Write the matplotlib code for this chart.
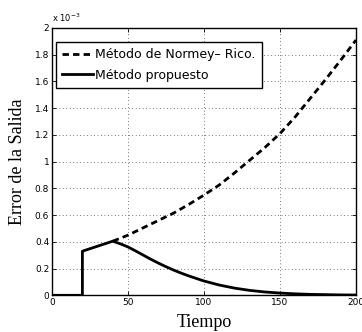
import numpy as np
import matplotlib
matplotlib.use('Agg')
import matplotlib.pyplot as plt
from matplotlib.ticker import FuncFormatter

# valores (error en unidades de 1e-3)
t_normey = [40, 50, 60, 70, 80, 90, 100, 110, 120, 130, 140, 150,
            160, 170, 180, 190, 200]
e_normey = [0.405, 0.45, 0.505, 0.56, 0.615, 0.68, 0.75, 0.825, 0.915, 1.01,
            1.105, 1.21, 1.335, 1.475, 1.615, 1.76, 1.91]

t_prop = [0, 20, 20, 40, 45, 50, 55, 60, 65, 70, 75, 80, 85, 90, 100, 110,
          120, 130, 140, 150, 160, 170, 180, 190, 200]
e_prop = [0, 0, 0.33, 0.405, 0.385, 0.362, 0.332, 0.301, 0.270, 0.241,
          0.214, 0.189, 0.166, 0.145, 0.107, 0.077, 0.054, 0.037, 0.025,
          0.017, 0.011, 0.007, 0.005, 0.003, 0.002]

xticks = [0, 50, 100, 150, 200]
yticks = [0, 0.2, 0.4, 0.6, 0.8, 1.0, 1.2, 1.4, 1.6, 1.8, 2.0]

fig = plt.figure(figsize=(3.62, 3.32), dpi=100)
ax = fig.add_axes([0.1436, 0.1105, 0.8398, 0.8052])

ax.plot(t_normey, e_normey, color='black', lw=2, linestyle=(0, (2.3, 1.5)),
        label='Método de Normey– Rico.')
ax.plot(t_prop, e_prop, color='black', lw=2, label='Método propuesto')

ax.set_xlim(0, 200)
ax.set_ylim(0, 2)
ax.set_xticks(xticks)
ax.set_yticks(yticks)
ax.yaxis.set_major_formatter(FuncFormatter(lambda v, p: f'{v:g}'))
ax.tick_params(direction='in', length=3, labelsize=6.5, top=True, right=True,
               width=0.6, pad=2)
ax.grid(True, linestyle=(0, (1, 4)), color='black', lw=0.5)
for s in ax.spines.values():
    s.set_linewidth(1.0)

ax.set_xlabel('Tiempo', family='Liberation Serif', fontsize=13, labelpad=5)
ax.set_ylabel('Error de la Salida', family='Liberation Serif', fontsize=13,
              labelpad=6)
ax.text(0.0, 1.015, r'x 10$^{-3}$', transform=ax.transAxes, fontsize=6,
        ha='left', va='bottom')

leg = ax.legend(loc='upper left', bbox_to_anchor=(0.013, 0.948),
                borderaxespad=0, fancybox=False, edgecolor='black',
                fontsize=9, handlelength=2.5, handletextpad=0.15,
                borderpad=0.5, labelspacing=0.6, framealpha=1)
leg.get_frame().set_linewidth(1.0)

fig.savefig('out.png', dpi=100)
